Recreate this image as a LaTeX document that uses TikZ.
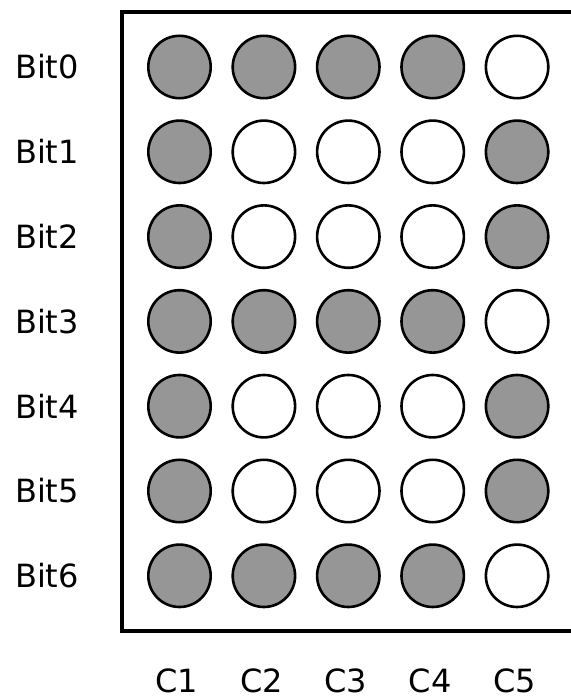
\documentclass[tikz,border=0pt]{standalone}
\usepackage{fontspec}
\setmainfont{DejaVu Sans}
\definecolor{dotFill}{RGB}{150,150,150}
\definecolor{dotStroke}{RGB}{0,0,0}
\definecolor{labelText}{RGB}{0,0,0}

\begin{document}
\begin{tikzpicture}[
  x=0.5pt,
  y=0.5pt,
  frame/.style={draw=dotStroke, line width=1.6pt},
  dot/.style={circle, draw=dotStroke, line width=1.3pt, minimum size=31.2pt, inner sep=0pt},
  lit/.style={dot, fill=dotFill},
  unlit/.style={dot, fill=white},
  rowLabel/.style={font=\fontsize{16}{19}\selectfont, text=labelText},
  colLabel/.style={font=\fontsize{16}{19}\selectfont, text=labelText, anchor=base, inner sep=1pt}
]
  \useasboundingbox (0,0) rectangle (571,698);

  \draw[frame] (571,686) -- (122,686) -- (122,67) -- (571,67);

  \foreach \row/\a/\b/\c/\d/\e in {0/lit/lit/lit/lit/unlit,
                                   1/lit/unlit/unlit/unlit/lit,
                                   2/lit/unlit/unlit/unlit/lit,
                                   3/lit/lit/lit/lit/unlit,
                                   4/lit/unlit/unlit/unlit/lit,
                                   5/lit/unlit/unlit/unlit/lit,
                                   6/lit/lit/lit/lit/unlit} {
    \pgfmathsetmacro{\y}{631-84.8*\row}
    \node[rowLabel] (bit\row) at (47,\y) {Bit\row};
    \node[\a] (b\row c1) at (179.5,\y) {};
    \node[\b] (b\row c2) at (263.9,\y) {};
    \node[\c] (b\row c3) at (348.3,\y) {};
    \node[\d] (b\row c4) at (432.7,\y) {};
    \node[\e] (b\row c5) at (517.1,\y) {};
  }

  \foreach \col/\x in {1/177,2/261.4,3/345.8,4/430.2,5/514.6} {
    \node[colLabel] (c\col) at (\x,5) {C\col};
  }
\end{tikzpicture}
\end{document}
